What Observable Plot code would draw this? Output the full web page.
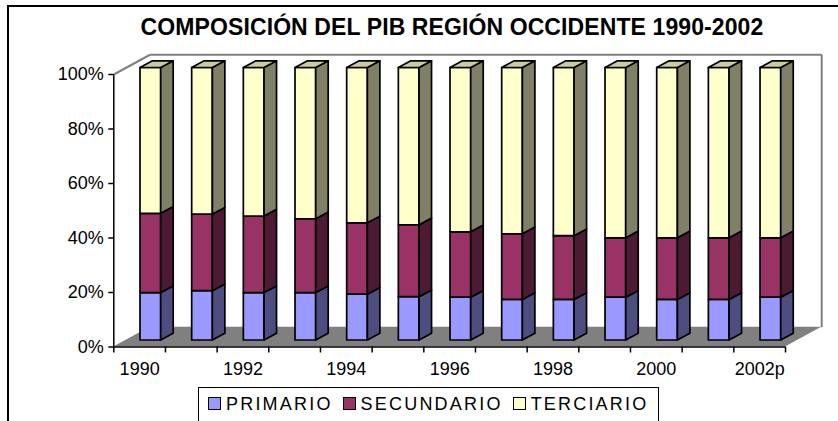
<!DOCTYPE html>
<html>
<head>
<meta charset="utf-8">
<script src="https://cdn.jsdelivr.net/npm/d3@7"></script>
<script src="https://cdn.jsdelivr.net/npm/@observablehq/plot@0.6"></script>
<style>
  html, body { margin: 0; padding: 0; background: #fff; }
  body { width: 838px; height: 421px; overflow: hidden; position: relative; font-family: "Liberation Sans", Arial, sans-serif; }
  #frame { position: absolute; left: 7px; top: 5px; width: 900px; height: 500px; border: 2px solid #000; box-sizing: border-box; }
  #title { position: absolute; left: 8px; top: 14px; width: 888px; text-align: center; font-weight: bold; font-size: 23px; line-height: 27px; letter-spacing: 0.1px; color: #000; white-space: nowrap; }
  #chart { position: absolute; left: 0; top: 46px; }
  #legend { position: absolute; left: 198px; top: 387px; width: 461px; height: 40px; border: 1px solid #000; box-sizing: border-box; padding: 6px 0 0 9px; font-size: 18px; line-height: 20px; letter-spacing: 2.2px; white-space: nowrap; background: #fff; }
  #legend .item { display: inline-block; margin-right: 10px; }
  #legend .sw { display: inline-block; width: 11px; height: 11px; border: 1px solid #000; margin-right: 5px; vertical-align: baseline; }
</style>
</head>
<body>
<div id="frame"></div>
<div id="title">COMPOSICIÓN DEL PIB REGIÓN OCCIDENTE 1990-2002</div>
<div id="chart"></div>
<div id="legend"></div>
<script>
// ---- data ----
const years = ["1990","1991","1992","1993","1994","1995","1996","1997","1998","1999","2000","2001","2002p"];
const tickLabels = ["1990","1992","1994","1996","1998","2000","2002p"];
const seriesNames = ["PRIMARIO","SECUNDARIO","TERCIARIO"];
const primario   = [17.4, 18.1, 17.4, 17.4, 16.8, 15.9, 15.7, 14.9, 14.9, 15.7, 14.9, 14.9, 15.7];
const secundario = [29.1, 28.1, 28.1, 27.1, 26.2, 26.4, 24.0, 24.1, 23.4, 21.8, 22.6, 22.6, 21.8];
const terciario  = [53.5, 53.8, 54.5, 55.5, 57.0, 57.7, 60.3, 61.0, 61.7, 62.5, 62.5, 62.5, 62.5];
const yTicks = [0, 20, 40, 60, 80, 100];

// ---- styles ----
const frontColor = {PRIMARIO: "#9999FF", SECUNDARIO: "#993366", TERCIARIO: "#FFFFCC"};
const sideColor  = {PRIMARIO: "#4D4D80", SECUNDARIO: "#4D1A33", TERCIARIO: "#808066"};
const topColor = "#CCCCA3";
const wallColor = "gray";

// ---- layout ----
const W = 838, H = 334;
const mL = 113.3, mR = 53, mT = 28, mB = 33.5;
const n = years.length;
const pxX = n / (W - mL - mR);        // x data units per pixel
const pxY = 100 / (H - mT - mB);      // y data units per pixel
const off = 26.7 * pxX, fw = 20.7 * pxX;   // bar front face offset and width
const sdx = 12.5 * pxX, sdy = 6.7 * pxY;   // bar side depth
const lift = -6.5;                          // bars stand inside the floor
const Dx = 36.2 * pxX, Dy = 19.75 * pxY;    // floor / wall depth

// ---- stacking (100%) ----
const valuesBy = {PRIMARIO: primario, SECUNDARIO: secundario, TERCIARIO: terciario};
const rows = [];
years.forEach((yr, i) => {
  const total = seriesNames.reduce((s, k) => s + valuesBy[k][i], 0);
  let acc = 0;
  seriesNames.forEach(k => {
    const v = valuesBy[k][i] / total * 100;
    rows.push({i, year: yr, series: k, lo: acc, hi: acc + v});
    acc += v;
  });
});

const marks = [];
// floor
marks.push(Plot.areaY([
  {x: 0, y1: 0, y2: 0}, {x: Dx, y1: 0, y2: Dy}, {x: n, y1: 0, y2: Dy}, {x: n + Dx, y1: Dy, y2: Dy}
], {x: "x", y1: "y1", y2: "y2", fill: "#808080", curve: "linear"}));
// axes lines
marks.push(Plot.ruleX([0], {y1: 0, y2: 100, stroke: "#000", strokeWidth: 1.5}));
marks.push(Plot.ruleY([0], {x1: 0, x2: n, stroke: "#000", strokeWidth: 1.5}));
marks.push(Plot.axisY({ticks: yTicks, tickFormat: d => d + "%", tickSize: 5, tickPadding: 5, strokeWidth: 1.5, label: null}));
marks.push(Plot.axisX({ticks: d3.range(0, n + 1), tickFormat: () => "", tickSize: 6, strokeWidth: 1.5, label: null}));
marks.push(Plot.axisX({ticks: tickLabels.map(t => years.indexOf(t) + 0.5), tickFormat: d => years[Math.floor(d)], tickSize: 0, tickPadding: 15.5, label: null}));

// bars
seriesNames.forEach(k => {
  const data = rows.filter(r => r.series === k);
  marks.push(Plot.rect(data, {
    x1: d => d.i + off, x2: d => d.i + off + fw, y1: "lo", y2: "hi",
    fill: frontColor[k], stroke: "#000", strokeWidth: 1.7, strokeLinejoin: "round", dy: lift
  }));
  const side = data.flatMap(d => [
    {key: d.i, x: d.i + off + fw, y1: d.lo, y2: d.hi},
    {key: d.i, x: d.i + off + fw + sdx, y1: d.lo + sdy, y2: d.hi + sdy}
  ]);
  marks.push(Plot.areaY(side, {
    x: "x", y1: "y1", y2: "y2", z: "key", fill: sideColor[k], stroke: "#000", strokeWidth: 1.7, strokeLinejoin: "round", dy: lift
  }));
});
// top caps
const topRows = rows.filter(r => r.series === "TERCIARIO");
const caps = topRows.flatMap(d => [
  {key: d.i, x: d.i + off, y1: d.hi, y2: d.hi},
  {key: d.i, x: d.i + off + sdx, y1: d.hi, y2: d.hi + sdy},
  {key: d.i, x: d.i + off + fw, y1: d.hi, y2: d.hi + sdy},
  {key: d.i, x: d.i + off + fw + sdx, y1: d.hi + sdy, y2: d.hi + sdy}
]);
marks.push(Plot.areaY(caps, {x: "x", y1: "y1", y2: "y2", z: "key", fill: topColor, stroke: "#000", strokeWidth: 1.7, strokeLinejoin: "round", dy: lift}));

// walls outline (drawn last)
const wallSegments = [
  {x1: 0, y1: 100, x2: Dx, y2: 100 + Dy},
  {x1: Dx, y1: 100 + Dy, x2: n + Dx, y2: 100 + Dy},
  {x1: n + Dx, y1: 100 + Dy, x2: n + Dx, y2: Dy}
];
marks.push(Plot.link(wallSegments, {x1: "x1", y1: "y1", x2: "x2", y2: "y2", stroke: wallColor, strokeWidth: 2}));

const chart = Plot.plot({
  width: W, height: H,
  marginLeft: mL, marginRight: mR, marginTop: mT, marginBottom: mB,
  x: {type: "linear", domain: [0, n], label: null},
  y: {type: "linear", domain: [0, 100], label: null},
  style: {fontSize: "18px", fontFamily: "'Liberation Sans', Arial, sans-serif", background: "transparent", overflow: "visible"},
  marks
});
document.getElementById("chart").appendChild(chart);

// legend
const legend = document.getElementById("legend");
seriesNames.forEach(k => {
  const item = document.createElement("span");
  item.className = "item";
  const sw = document.createElement("span");
  sw.className = "sw";
  sw.style.background = frontColor[k];
  item.appendChild(sw);
  item.appendChild(document.createTextNode(k));
  legend.appendChild(item);
});
</script>
</body>
</html>
